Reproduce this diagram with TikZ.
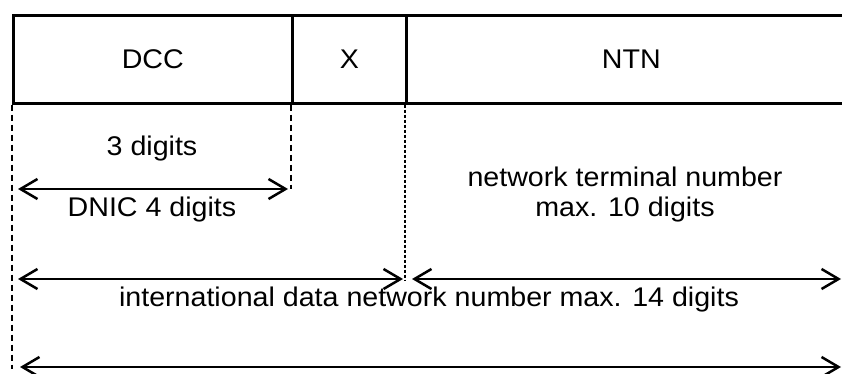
\documentclass[tikz,border=0pt]{standalone}
\usepackage{fontspec}
\setmainfont{Liberation Sans}[FakeStretch=1.06]
\usetikzlibrary{arrows.meta}
\begin{document}
\begin{tikzpicture}[x=1pt,y=-1pt,
  lbl/.style={font=\fontsize{27}{30}\selectfont, inner sep=0pt},
  cell/.style={lbl, draw, line width=2.6pt, minimum height=88pt, anchor=north west},
  guide/.style={line width=2pt, dash pattern=on 6pt off 4pt},
  fineguide/.style={line width=1.6pt, dash pattern=on 3pt off 2pt},
  span/.style={line width=2.5pt, {Straight Barb[length=17pt,width=20pt]}-{Straight Barb[length=17pt,width=20pt]}}
]
\useasboundingbox (0,0) rectangle (842,374);
\clip (0,0) rectangle (842,374);

% the three fields of the address
\node[cell, minimum width=279pt] (dcc) at (12,14) {DCC};
\node[cell, minimum width=114pt] (xf)  at (291,14) {X};
\node[cell, minimum width=450pt] (ntn) at (405,14) {NTN};

% ends of the guide lines
\coordinate (gA) at (12,369);
\coordinate (gB) at (291,189);
\coordinate (gC) at (405,280);

\draw[guide] (dcc.south west) -- (gA);
\draw[guide] (xf.south west) -- (gB);
\draw[fineguide] (ntn.south west) -- (gC);

% arrow end points
\coordinate (dL) at (18,189);
\coordinate (dR) at (288,189);
\coordinate (iL) at (18,279);
\coordinate (iM) at (403,279);
\coordinate (nL) at (412,279);
\coordinate (nR) at (841,279);
\coordinate (tL) at (20,367);
\coordinate (tR) at (841,367);

\draw[span] (dL) -- (dR);
\draw[span] (iL) -- (iM);
\draw[span] (nL) -- (nR);
\draw[span] (tL) -- (tR);

% labels
\node[lbl, anchor=base] (three) at (152,156) {3 digits};
\node[lbl, anchor=base] (dnic) at (152,216) {DNIC 4 digits};
\node[lbl, anchor=base] (ntn1) at (625,186) {network terminal number};
\node[lbl, anchor=base] (ntn2) at (625,216) {max. 10 digits};
\node[lbl, anchor=base] (intl) at (429,306) {international data network number max. 14 digits};
\end{tikzpicture}
\end{document}
